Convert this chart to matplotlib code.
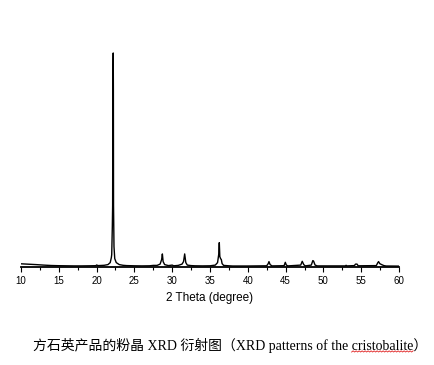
import matplotlib
matplotlib.use("Agg")
import matplotlib.pyplot as plt
import numpy as np
from matplotlib.ticker import MultipleLocator

# 2 theta (degree) and relative intensity
two_theta = [
    10.0, 10.5, 11.0, 11.5, 12.0, 13.0, 14.0, 15.0, 16.0, 17.0, 18.0, 19.0,
    19.9, 20.0, 20.2, 21.0, 21.5, 21.8, 21.95, 22.0, 22.08, 22.12, 22.15,
    22.2, 22.22, 22.24, 22.3, 22.4, 22.6, 23.0, 23.5, 24.0, 25.0, 26.0,
    27.0, 27.5, 28.0, 28.4, 28.6, 28.7, 28.8, 29.0, 29.5, 30.0, 30.2, 30.8,
    31.3, 31.5, 31.65, 31.8, 32.0, 32.5, 33.0, 34.0, 35.0, 35.7, 36.0,
    36.15, 36.23, 36.3, 36.4, 36.5, 36.6, 36.8, 37.5, 38.0, 40.0, 42.5,
    42.7, 42.8, 42.95, 43.2, 44.8, 44.96, 45.1, 45.3, 47.0, 47.2, 47.4,
    47.6, 48.4, 48.6, 48.7, 48.9, 49.2, 52.9, 53.0, 53.1, 54.1, 54.25,
    54.45, 54.6, 57.0, 57.2, 57.3, 57.45, 57.7, 58.0, 58.3, 60.0,
]
intensity = [
    2.8, 2.6, 2.4, 2.2, 2.0, 1.5, 1.1, 0.9, 0.8, 0.7, 0.7, 0.8,
    0.9, 1.6, 1.0, 1.3, 2.0, 4.0, 9.0, 12.0, 40.0, 61.0, 175.0,
    214.0, 175.0, 61.0, 20.0, 8.0, 4.0, 2.0, 1.3, 1.0, 0.8, 0.7,
    0.8, 1.2, 1.2, 2.5, 7.0, 12.7, 5.0, 2.0, 1.0, 1.5, 0.8, 1.2,
    2.5, 5.0, 12.7, 4.0, 1.5, 1.0, 0.8, 0.7, 0.8, 1.5, 4.0,
    12.0, 24.0, 10.0, 8.0, 7.0, 3.0, 1.2, 0.8, 0.6, 0.6, 0.8,
    3.0, 5.0, 2.0, 0.7, 0.9, 4.3, 1.5, 0.7, 1.5, 5.3, 2.0,
    0.7, 1.5, 6.0, 5.5, 1.5, 0.7, 0.7, 1.3, 0.7, 1.0, 2.5,
    2.5, 0.8, 1.0, 4.0, 5.0, 3.0, 2.0, 1.0, 0.6, 0.5,
]

caption = "方石英产品的粉晶 XRD 衍射图（XRD patterns of the cristobalite）"
x_label = "2 Theta (degree)"

W, H = 435, 365
fig = plt.figure(figsize=(W / 100, H / 100), dpi=100)
fig.patch.set_facecolor("white")

ax_top, ax_bottom, ax_left, ax_right = 40, 267, 21, 399
ax = fig.add_axes([ax_left / W, 1 - ax_bottom / H,
                   (ax_right - ax_left) / W, (ax_bottom - ax_top) / H])
ax.plot(two_theta, intensity, color="black", lw=1.0)
ax.set_xlim(10, 60)
ax.set_ylim(-0.4, ax_bottom - ax_top)

for side in ("top", "left", "right"):
    ax.spines[side].set_visible(False)
ax.spines["bottom"].set_linewidth(1.3)
ax.set_yticks([])
ax.xaxis.set_major_locator(MultipleLocator(5))
ax.xaxis.set_minor_locator(MultipleLocator(2.5))
ax.tick_params(axis="x", which="major", direction="out", length=3.5, width=0.8,
               pad=3.0, labelsize=7)
ax.tick_params(axis="x", which="minor", direction="out", length=2.2, width=0.8)
for lab in ax.get_xticklabels():
    lab.set_family("Liberation Sans")
ax.set_xlabel(x_label, fontsize=8.5, family="Liberation Sans", labelpad=4)

cap_font = ["Liberation Serif", "Noto Sans CJK SC"]
cap = fig.text(230 / W, 1 - 345 / H, caption, ha="center", va="center",
               fontsize=10.0, family=cap_font)

# red spell-check squiggle under "cristobalite"
fig.canvas.draw()
r = fig.canvas.get_renderer()
bb = cap.get_window_extent(r)
pre = fig.text(0, 0, caption[:caption.index("cristobalite")], fontsize=10.0,
               family=cap_font)
word = fig.text(0, 0, "cristobalite", fontsize=10.0, family=cap_font)
x0 = bb.x0 + pre.get_window_extent(r).width
x1 = x0 + word.get_window_extent(r).width
pre.remove()
word.remove()
xs = np.arange(x0, x1, 1.5)
ys = bb.y0 + 0.5 + 1.2 * (np.arange(len(xs)) % 2)
fig.add_artist(plt.Line2D(xs / W, ys / H, color="#e02020", lw=0.6,
                          transform=fig.transFigure))

fig.savefig("out.png", dpi=100)
